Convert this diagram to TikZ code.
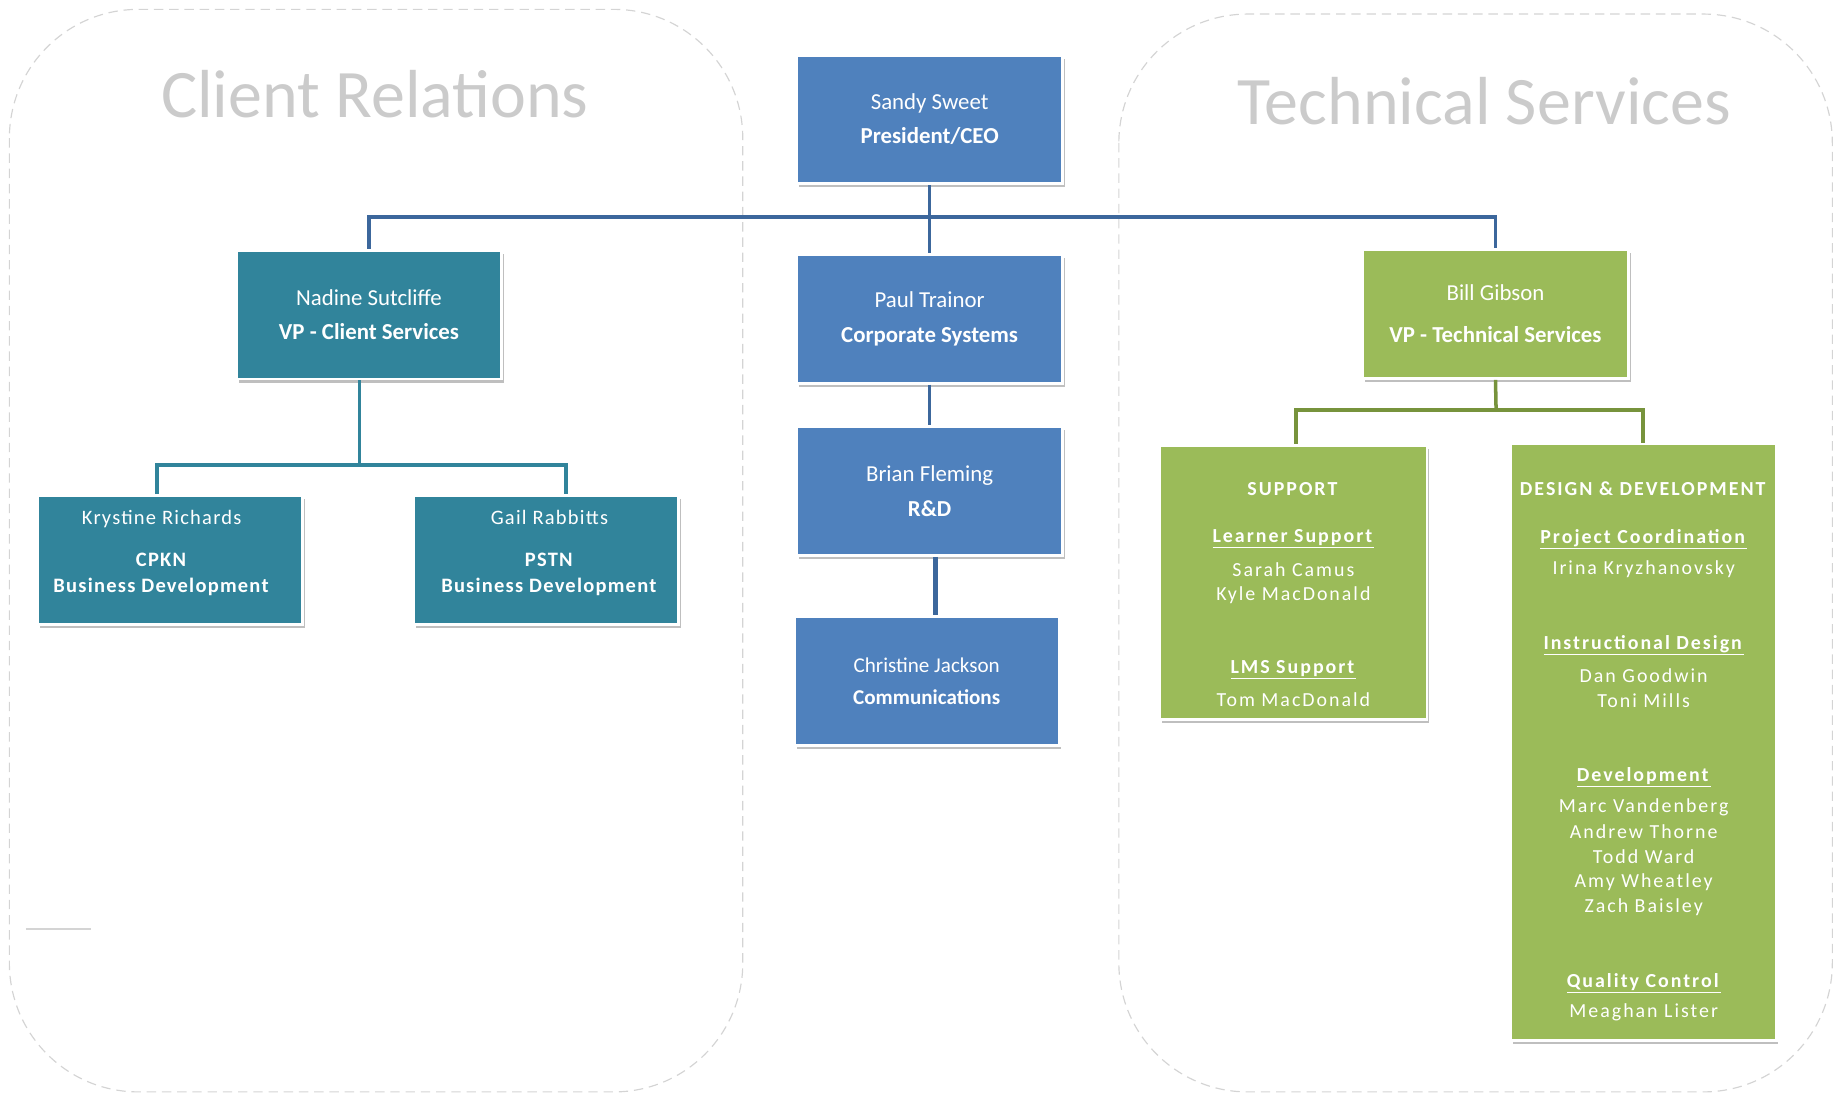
\documentclass[tikz,border=0pt]{standalone}
\usepackage{fontspec}
\setmainfont{Carlito}
\newfontfamily\spc[LetterSpace=10]{Carlito}
\newfontfamily\spcb[LetterSpace=6]{Carlito}
\usetikzlibrary{shadows}
\definecolor{cblue}{HTML}{4F81BD}
\definecolor{cteal}{HTML}{31849B}
\definecolor{cgreen}{HTML}{9BBB59}
\definecolor{lblue}{HTML}{3C679C}
\definecolor{lgreen}{HTML}{77933C}
\definecolor{ctitle}{HTML}{CBCBCB}
\definecolor{cdash}{HTML}{D4D4D4}
\begin{document}
\begin{tikzpicture}[x=1pt,y=-1pt,
  cont/.style={draw=cdash, line width=1pt, dash pattern=on 8pt off 5pt, rounded corners=110pt},
  ttl/.style={text=ctitle, font=\fontsize{58}{60}\selectfont, anchor=base},
  card/.style={draw=white, line width=2.5pt, text=white, align=center, inner sep=0pt,
    drop shadow={shadow xshift=2pt, shadow yshift=-3pt, fill=black, opacity=0.25}},
  bcard/.style={card, fill=cblue, minimum width=227pt, minimum height=110pt, font=\fontsize{19.5}{23}\selectfont},
  tcard/.style={card, fill=cteal, minimum width=226pt, minimum height=110pt},
  gcard/.style={card, fill=cgreen, minimum width=227pt, minimum height=110pt},
  gtxt/.style={text=white, font=\spc\fontsize{17}{20}\selectfont, inner sep=0pt},
  ktxt/.style={text=white, align=center, inner sep=0pt, font=\spcb\fontsize{17.5}{22}\selectfont},
  bline/.style={draw=lblue, line width=3pt},
  tline/.style={draw=cteal, line width=3pt},
  gline/.style={draw=lgreen, line width=3pt}]
\useasboundingbox (0,0) rectangle (1568,935);
% containers
\draw[cont] (8,8) rectangle (634,932);
\draw[cont] (955,12) rectangle (1564,932);
\node[ttl] (t1) at (320,100) {Client Relations};
\node[ttl] (t2) at (1267,106) {Technical Services};
\draw[draw=cdash, line width=1pt] (22,793) -- (78,793);
\coordinate (bus) at (793.5,185);
\coordinate (tbus) at (307,397);
\coordinate (gbus) at (1277,350);
% cards
\node[bcard] (ceo) at (793.5,102) {Sandy Sweet\\[6pt]\textbf{President/CEO}};
\node[tcard, font=\fontsize{19.5}{23}\selectfont] (nadine) at (315,268.5) {Nadine Sutcliffe\\[6pt]\textbf{VP - Client Services}};
\node[bcard] (paul) at (793.5,272) {Paul Trainor\\[7pt]\textbf{Corporate Systems}};
\node[gcard, font=\fontsize{19.5}{23}\selectfont] (bill) at (1276.5,268) {Bill Gibson\\[13pt]\textbf{VP - Technical Services}};
\node[bcard] (brian) at (793.5,419) {Brian Fleming\\[7pt]\textbf{R\&D}};
\node[bcard, minimum width=226pt, font=\fontsize{18}{22}\selectfont] (chris) at (791,581.5) {Christine Jackson\\[5pt]\textbf{Communications}};
\node[tcard] (kry) at (145,478) {};
\node[tcard] (gail) at (466,478) {};
\node[ktxt] (kryt) at (138,472) {Krystine Richards\\[14pt]\textbf{CPKN}\\\textbf{Business Development}};
\node[ktxt] (gailt) at (469,472) {Gail Rabbitts\\[14pt]\textbf{PSTN}\\\textbf{Business Development}};
\node[gcard, minimum width=228pt, minimum height=234pt] (sup) at (1104,497) {};
\node[gcard, minimum width=227pt, minimum height=509pt] (dd) at (1402.5,633.5) {};
% support texts
\node[gtxt] (s0) at (1104,417) {\textbf{SUPPORT}};
\node[gtxt] (s1) at (1104,460) {\underline{\textbf{Learner Support}}};
\node[gtxt] (s2) at (1104,486) {Sarah Camus};
\node[gtxt] (s3) at (1104,508) {Kyle MacDonald};
\node[gtxt] (s4) at (1104,572) {\underline{\textbf{LMS Support}}};
\node[gtxt] (s5) at (1104,597) {Tom MacDonald};
% design texts
\node[gtxt] (d0) at (1403,417) {\textbf{DESIGN \& DEVELOPMENT}};
\node[gtxt] (d1) at (1403,460) {\underline{\textbf{Project Coordination}}};
\node[gtxt] (d2) at (1403,486) {Irina Kryzhanovsky};
\node[gtxt] (d3) at (1403,551) {\underline{\textbf{Instructional Design}}};
\node[gtxt] (d4) at (1403,577) {Dan Goodwin};
\node[gtxt] (d5) at (1403,598) {Toni Mills};
\node[gtxt] (d6) at (1403,663) {\underline{\textbf{Development}}};
\node[gtxt] (d7) at (1403,689) {Marc Vandenberg};
\node[gtxt] (d8) at (1403,710) {Andrew Thorne};
\node[gtxt] (d9) at (1403,731) {Todd Ward};
\node[gtxt] (d10) at (1403,753) {Amy Wheatley};
\node[gtxt] (d11) at (1403,774) {Zach Baisley};
\node[gtxt] (d12) at (1403,839) {\underline{\textbf{Quality Control}}};
\node[gtxt] (d13) at (1403,864) {Meaghan Lister};
% connectors
\draw[bline] (ceo.south) -- (paul.north);
\draw[bline] (nadine.north) |- (bus) -| (bill.north);
\draw[tline] ([xshift=-8pt]nadine.south) -- (tbus);
\draw[tline] ([xshift=-11pt]kry.north) |- (tbus) -| ([xshift=17pt]gail.north);
\draw[bline] (paul.south) -- (brian.north);
\draw[bline, line width=4.5pt] ([xshift=5pt]brian.south) -- ([xshift=5pt]brian.south |- chris.north);
\draw[gline] (bill.south) -- (gbus);
\draw[gline] ([xshift=2pt]sup.north) |- (gbus) -| (dd.north);
\end{tikzpicture}
\end{document}
